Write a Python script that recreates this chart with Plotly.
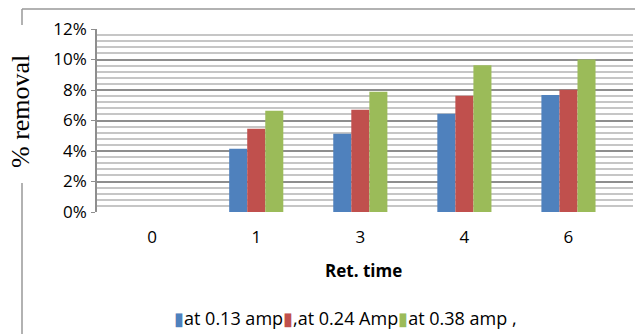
import plotly.graph_objects as go

categories = ["0", "1", "3", "4", "6"]
series_names = ["at 0.13 amp", ",at 0.24 Amp", "at 0.38 amp ,"]
series_colors = ["#4F81BD", "#C0504D", "#9BBB59"]
s1 = [0.0, 0.0415, 0.0513, 0.0644, 0.0768]
s2 = [0.0, 0.0546, 0.0670, 0.0763, 0.0801]
s3 = [0.0, 0.0664, 0.0788, 0.0962, 0.1000]
series_values = [s1, s2, s3]
y_ticks = [0, 0.02, 0.04, 0.06, 0.08, 0.10, 0.12]

W, H = 635, 334
ml, mr, mt, mb = 97, 2, 29, 122

fig = go.Figure()
for name, vals, col in zip(series_names, series_values, series_colors):
    fig.add_trace(go.Bar(x=categories, y=vals, name=name, marker_color=col,
                         marker_line_width=0, showlegend=False))

sans = "Open Sans, Liberation Sans, sans-serif"
tick_font = dict(family=sans, size=17, color="#000")

fig.update_layout(
    width=W, height=H,
    margin=dict(l=ml, r=mr, t=mt, b=mb),
    paper_bgcolor="white", plot_bgcolor="white",
    barmode="group", bargap=0.48, bargroupgap=0,
    xaxis=dict(type="category", range=[-0.53, 4.62], showgrid=False,
               showline=False, ticks="", tickfont=tick_font,
               ticklabelstandoff=13, zeroline=False),
    yaxis=dict(range=[0, 0.12], tickvals=y_ticks, tickformat=".0%",
               showgrid=True, gridcolor="#8e8e8e", gridwidth=1.5,
               minor=dict(dtick=0.004, showgrid=True, gridcolor="#c6c6c6", gridwidth=1.5),
               showline=True, linecolor="#8e8e8e", linewidth=1.5,
               ticks="outside", ticklen=4, tickcolor="#8e8e8e",
               tickfont=tick_font, zeroline=False, ticklabelstandoff=1),
)

def px_x(px):
    return (px - ml) / (W - ml - mr)

def px_y(py):
    return (H - mb - py) / (H - mt - mb)

# axis titles
fig.add_annotation(text="<b>Ret. time</b>", xref="paper", yref="paper",
                   x=px_x(363), y=px_y(270), showarrow=False,
                   font=dict(family=sans, size=17, color="#000"),
                   xanchor="center", yanchor="middle")
fig.add_annotation(text="% removal", xref="paper", yref="paper",
                   x=px_x(21), y=px_y(112), showarrow=False, textangle=-90,
                   font=dict(family="Liberation Serif, serif", size=26, color="#000"),
                   xanchor="center", yanchor="middle")

# legend built as text
parts = []
for name, col in zip(series_names, series_colors):
    parts.append(f"<span style='color:{col}'>▮</span>{name}")
fig.add_annotation(text="".join(parts), xref="paper", yref="paper",
                   x=px_x(345), y=px_y(318), showarrow=False,
                   font=dict(family=sans, size=18, color="#000"),
                   xanchor="center", yanchor="middle")

# outer chart frame (partial)
frame = dict(color="#999999", width=1.5)
fig.add_shape(type="line", xref="paper", yref="paper", x0=px_x(22), x1=px_x(635),
              y0=px_y(9), y1=px_y(9), line=frame)
fig.add_shape(type="line", xref="paper", yref="paper", x0=px_x(22), x1=px_x(22),
              y0=px_y(9), y1=px_y(25), line=frame)
fig.add_shape(type="line", xref="paper", yref="paper", x0=px_x(22), x1=px_x(22),
              y0=px_y(183), y1=px_y(334), line=frame)

fig.write_html("out.html")
